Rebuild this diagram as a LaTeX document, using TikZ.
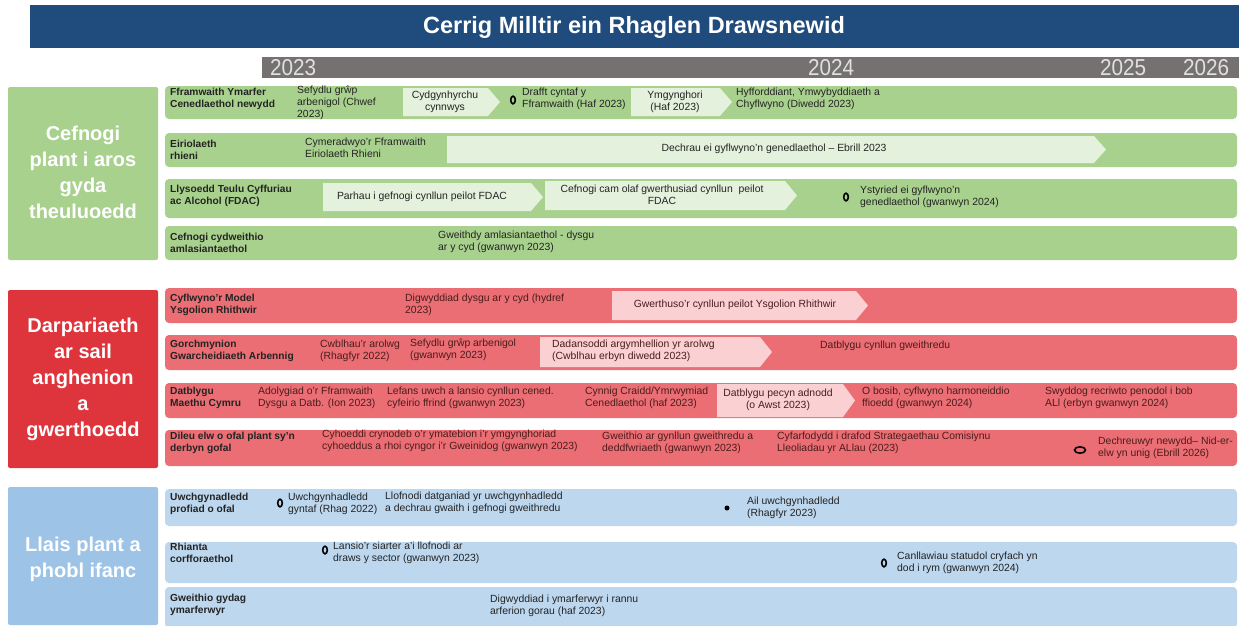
\documentclass[tikz,border=0pt]{standalone}
\usepackage{fontspec}
\setmainfont{Liberation Sans}
\usepackage{graphicx}
\definecolor{titleblue}{RGB}{31,76,124}
\definecolor{yeargrey}{RGB}{118,113,113}
\definecolor{greencat}{RGB}{169,209,142}
\definecolor{greenrow}{RGB}{169,209,142}
\definecolor{greenchev}{RGB}{228,241,220}
\definecolor{redcat}{RGB}{222,52,60}
\definecolor{redrow}{RGB}{234,110,116}
\definecolor{redchev}{RGB}{250,208,211}
\definecolor{bluecat}{RGB}{157,195,230}
\definecolor{bluerow}{RGB}{189,215,238}
\definecolor{ink}{RGB}{35,35,35}
\definecolor{redink}{RGB}{75,28,28}
\newcommand\chevpath[5]{\fill[fill=#1] (#2,#3) -- ({#4-12},#3) -- (#4,{(#3+#5)/2}) -- ({#4-12},#5) -- (#2,#5) -- cycle;}
\tikzset{
  lbl/.style={anchor=west, align=left, inner sep=0pt, font=\fontsize{10.2}{12.5}\selectfont\bfseries, text=ink},
  tx/.style={anchor=west, align=left, inner sep=0pt, font=\fontsize{10.4}{12}\selectfont, text=ink},
  ctx/.style={anchor=center, align=center, inner sep=0pt, font=\fontsize{10.4}{12}\selectfont, text=ink},
  rtx/.style={tx, text=redink},
  rctx/.style={ctx, text=redink},
  cat/.style={anchor=center, align=center, inner sep=0pt, font=\fontsize{20}{26}\selectfont\bfseries, text=white},
  yr/.style={anchor=west, inner sep=0pt, font=\fontsize{23}{23}\selectfont, text=white!88!black},
  rowbar/.style={rounded corners=4pt},
  mk/.style={draw=black, line width=1.6pt, fill=none},
}
\begin{document}
\begin{tikzpicture}[x=1pt,y=-1pt]
\useasboundingbox (0,0) rectangle (1239,625);
% title and years
\fill[fill=titleblue] (30,5) rectangle (1239,48);
\node[inner sep=0pt, font=\fontsize{23.5}{23.5}\selectfont\bfseries, text=white] (title) at (634,27) {Cerrig Milltir ein Rhaglen Drawsnewid};
\fill[fill=yeargrey] (262,57) rectangle (1239,78);
\node[yr] (y23) at (270,68) {\scalebox{0.9}[1]{2023}};
\node[yr] (y24) at (808,68) {\scalebox{0.9}[1]{2024}};
\node[yr] (y25) at (1100,68) {\scalebox{0.9}[1]{2025}};
\node[yr] (y26) at (1183,68) {\scalebox{0.9}[1]{2026}};
% category boxes
\fill[fill=greencat, rounded corners=2pt] (8,87) rectangle (158,260);
\node[cat] (cg) at (83,172) {Cefnogi\\plant i aros\\gyda\\theuluoedd};
\fill[fill=redcat, rounded corners=2pt] (8,290) rectangle (158,468);
\node[cat] (cr) at (83,379) {Darpariaeth\\ar sail\\anghenion\\a\\gwerthoedd};
\fill[fill=bluecat, rounded corners=2pt] (8,487) rectangle (158,625);
\node[cat] (cb) at (83,559) {Llais plant a\\phobl ifanc};
% ---------------- green rows
\fill[fill=greenrow, rowbar] (165,86) rectangle (1237,119);
\fill[fill=greenrow, rowbar] (165,133) rectangle (1237,167);
\fill[fill=greenrow, rowbar] (165,179) rectangle (1237,218);
\fill[fill=greenrow, rowbar] (165,226) rectangle (1237,260);
% row 1
\node[lbl] (g1l) at (170,99) {Fframwaith Ymarfer\\Cenedlaethol newydd};
\node[tx] (g1a) at (297,103) {Sefydlu grŵp\\arbenigol (Chwef\\2023)};
\chevpath{greenchev}{403}{88}{500}{116}
\node[ctx] (g1b) at (445,102) {Cydgynhyrchu\\cynnwys};
\draw[mk] (513,100) ellipse (2.3 and 3.8);
\node[tx] (g1c) at (522,99) {Drafft cyntaf y\\Fframwaith (Haf 2023)};
\chevpath{greenchev}{631}{88}{732}{116}
\node[ctx] (g1d) at (675,102) {Ymgynghori\\(Haf 2023)};
\node[tx] (g1e) at (736,99) {Hyfforddiant, Ymwybyddiaeth a\\Chyflwyno (Diwedd 2023)};
% row 2
\node[lbl] (g2l) at (170,150) {Eiriolaeth\\rhieni};
\node[tx] (g2a) at (305,148) {Cymeradwyo'r Fframwaith\\Eiriolaeth Rhieni};
\chevpath{greenchev}{447}{136}{1106}{163}
\node[ctx] (g2b) at (774,149) {Dechrau ei gyflwyno'n genedlaethol – Ebrill 2023};
% row 3
\node[lbl] (g3l) at (170,196) {Llysoedd Teulu Cyffuriau\\ac Alcohol (FDAC)};
\chevpath{greenchev}{323}{183}{543}{211}
\node[ctx] (g3a) at (422,197) {Parhau i gefnogi cynllun peilot FDAC};
\chevpath{greenchev}{545}{181}{797}{210}
\node[ctx] (g3b) at (662,195) {Cefnogi cam olaf gwerthusiad cynllun\ \ peilot\\FDAC};
\draw[mk] (846,197) ellipse (2.3 and 3.8);
\node[tx] (g3c) at (860,197) {Ystyried ei gyflwyno'n\\genedlaethol (gwanwyn 2024)};
% row 4
\node[lbl] (g4l) at (170,243) {Cefnogi cydweithio\\amlasiantaethol};
\node[tx] (g4a) at (438,242) {Gweithdy amlasiantaethol - dysgu\\ar y cyd (gwanwyn 2023)};
% ---------------- red rows
\fill[fill=redrow, rowbar] (165,288) rectangle (1237,323);
\fill[fill=redrow, rowbar] (165,335) rectangle (1237,370);
\fill[fill=redrow, rowbar] (165,383) rectangle (1237,418);
\fill[fill=redrow, rowbar] (165,430) rectangle (1237,466);
% row 1
\node[lbl] (r1l) at (170,305) {Cyflwyno'r Model\\Ysgolion Rhithwir};
\node[rtx] (r1a) at (405,305) {Digwyddiad dysgu ar y cyd (hydref\\2023)};
\chevpath{redchev}{612}{291}{868}{320}
\node[rctx] (r1b) at (735,305) {Gwerthuso'r cynllun peilot Ysgolion Rhithwir};
% row 2
\node[lbl] (r2l) at (170,351) {Gorchmynion\\Gwarcheidiaeth Arbennig};
\node[rtx] (r2a) at (320,351) {Cwblhau'r arolwg\\(Rhagfyr 2022)};
\node[rtx] (r2b) at (410,350) {Sefydlu grŵp arbenigol\\(gwanwyn 2023)};
\chevpath{redchev}{540}{337}{772}{367}
\node[rtx] (r2c) at (552,351) {Dadansoddi argymhellion yr arolwg\\(Cwblhau erbyn diwedd 2023)};
\node[rtx] (r2d) at (820,346) {Datblygu cynllun gweithredu};
% row 3
\node[lbl] (r3l) at (170,398) {Datblygu\\Maethu Cymru};
\node[rtx] (r3a) at (258,398) {Adolygiad o'r Fframwaith\\Dysgu a Datb. (Ion 2023)};
\node[rtx] (r3b) at (387,398) {Lefans uwch a lansio cynllun cened.\\cyfeirio ffrind (gwanwyn 2023)};
\node[rtx] (r3c) at (585,398) {Cynnig Craidd/Ymrwymiad\\Cenedlaethol (haf 2023)};
\chevpath{redchev}{717}{384}{855}{417}
\node[rctx] (r3d) at (778,400) {Datblygu pecyn adnodd\\(o Awst 2023)};
\node[rtx] (r3e) at (862,398) {O bosib, cyflwyno harmoneiddio\\ffioedd (gwanwyn 2024)};
\node[rtx] (r3f) at (1045,398) {Swyddog recriwto penodol i bob\\ALl (erbyn gwanwyn 2024)};
% row 4
\node[lbl] (r4l) at (170,443) {Dileu elw o ofal plant sy'n\\derbyn gofal};
\node[rtx] (r4a) at (322,441) {Cyhoeddi crynodeb o'r ymatebion i'r ymgynghoriad\\cyhoeddus a rhoi cyngor i'r Gweinidog (gwanwyn 2023)};
\node[rtx] (r4b) at (602,443) {Gweithio ar gynllun gweithredu a\\deddfwriaeth (gwanwyn 2023)};
\node[rtx] (r4c) at (777,443) {Cyfarfodydd i drafod Strategaethau Comisiynu\\Lleoliadau yr ALlau (2023)};
\draw[mk] (1080,450) ellipse (5.5 and 3.2);
\node[rtx] (r4d) at (1098,448) {Dechreuwyr newydd– Nid-er-\\elw yn unig (Ebrill 2026)};
% ---------------- blue rows
\fill[fill=bluerow, rowbar] (165,489) rectangle (1237,526);
\fill[fill=bluerow, rowbar] (165,542) rectangle (1237,583);
\fill[fill=bluerow, rowbar] (165,587) rectangle (1237,628);
% row 1
\node[lbl] (b1l) at (170,504) {Uwchgynadledd\\profiad o ofal};
\draw[mk] (280,503) ellipse (2.3 and 3.8);
\node[tx] (b1a) at (288,504) {Uwchgynhadledd\\gyntaf (Rhag 2022)};
\node[tx] (b1b) at (385,503) {Llofnodi datganiad yr uwchgynhadledd\\a dechrau gwaith i gefnogi gweithredu};
\fill[fill=black] (727,508) circle (2.5);
\node[tx] (b1c) at (747,508) {Ail uwchgynhadledd\\(Rhagfyr 2023)};
% row 2
\node[lbl] (b2l) at (170,553) {Rhianta\\corfforaethol};
\draw[mk] (325,550) ellipse (2.3 and 3.8);
\node[tx] (b2a) at (333,553) {Lansio'r siarter a'i llofnodi ar\\draws y sector (gwanwyn 2023)};
\draw[mk] (884,563) ellipse (2.3 and 3.8);
\node[tx] (b2b) at (897,563) {Canllawiau statudol cryfach yn\\dod i rym (gwanwyn 2024)};
% row 3
\node[lbl] (b3l) at (170,605) {Gweithio gydag\\ymarferwyr};
\node[tx] (b3a) at (490,606) {Digwyddiad i ymarferwyr i rannu\\arferion gorau (haf 2023)};
\end{tikzpicture}
\end{document}
